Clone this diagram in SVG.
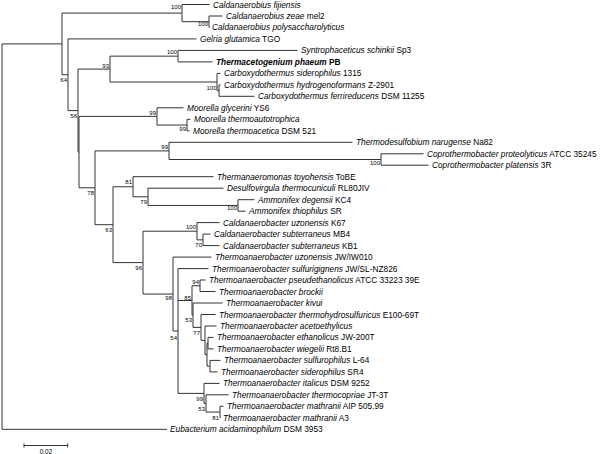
<svg xmlns="http://www.w3.org/2000/svg" width="600" height="454" viewBox="0 0 600 454">
<style>
.t{font-family:"Liberation Sans",Arial,sans-serif;font-size:8.3px;fill:#000}
.i{font-style:italic}
.bd{font-weight:bold}
.bs{font-family:"Liberation Sans",Arial,sans-serif;font-size:6px;fill:#000;text-anchor:end}
.br{fill:none;stroke:#333;stroke-width:1}
.sc{font-family:"Liberation Sans",Arial,sans-serif;font-size:6.5px;fill:#000;text-anchor:middle}
</style>
<rect width="600" height="454" fill="#fff"/>
<g id="connectors" class="br">
<path d="M2,43.9V429.3M2,43.9H62M2,429.3H167"/>
<path d="M62,13.1V74.75M62,13.1H182M62,74.75H68"/>
<path d="M182,4.5V21.7M182,4.5H209.5M182,21.7H209"/>
<path d="M209,16V27.4M209,16H222.5M209,27.4H209.5"/>
<path d="M68,38.9V110.6M68,38.9H196.5M68,110.6H78"/>
<path d="M78,69.1V152.1M78,69.1H110M78,152.1H79"/>
<path d="M110,56.15V82M110,56.15H178M110,82H217"/>
<path d="M178,50.4V61.9M178,50.4H297.5M178,61.9H212.5"/>
<path d="M217,73.4V90.6M217,73.4H220.5M217,90.6H219"/>
<path d="M219,84.9V96.3M219,84.9H220.5M219,96.3H254.5"/>
<path d="M79,116.4V187.8M79,116.4H157M79,187.8H95"/>
<path d="M157,107.8V125.05M157,107.8H183.5M157,125.05H187"/>
<path d="M187,119.3V130.8M187,119.3H190.5M187,130.8H189.5"/>
<path d="M95,150.9V224.7M95,150.9H169M95,224.7H113"/>
<path d="M169,142.3V159.5M169,142.3H352.5M169,159.5H381"/>
<path d="M381,153.8V165.2M381,153.8H423.5M381,165.2H428.5"/>
<path d="M113,186.75V262.6M113,186.75H133M113,262.6H143"/>
<path d="M133,176.7V196.8M133,176.7H213.5M133,196.8H148"/>
<path d="M148,188.2V205.45M148,188.2H223.5M148,205.45H238"/>
<path d="M238,199.7V211.2M238,199.7H254.5M238,211.2H245.5"/>
<path d="M143,231.2V294.05M143,231.2H197M143,294.05H173"/>
<path d="M197,222.6V239.85M197,222.6H219.5M197,239.85H203"/>
<path d="M203,234.1V245.6M203,234.1H210.5M203,245.6H219.5"/>
<path d="M173,257.1V331M173,257.1H211.5M173,331H178"/>
<path d="M178,268.6V393.4M178,268.6H208.5M178,300.5H192M178,393.4H204"/>
<path d="M192,285.75V315.2M192,285.75H200M192,315.2H193"/>
<path d="M200,280V291.5M200,280H205.5M200,291.5H215.5"/>
<path d="M193,303V327.4M193,303H222.5M193,327.4H201"/>
<path d="M201,314.5V340.3M201,314.5H215.5M201,340.3H205"/>
<path d="M205,326V354.65M205,326H216.5M205,354.65H207"/>
<path d="M207,343.15V366.15M207,343.15H208M207,366.15H210"/>
<path d="M208,337.4V348.9M208,337.4H213.5M208,348.9H213.5"/>
<path d="M210,360.4V371.9M210,360.4H220.5M210,371.9H217.5"/>
<path d="M204,383.4V403.4M204,383.4H219.5M204,403.4H206"/>
<path d="M206,394.8V412.05M206,394.8H228.5M206,412.05H220"/>
<path d="M220,406.3V417.8M220,406.3H223.5M220,417.8H220.5"/>
</g>
<g id="bootstrap">
<text class="bs" x="181" y="9.2">100</text>
<text class="bs" x="208" y="26.2">100</text>
<text class="bs" x="67" y="82.2">64</text>
<text class="bs" x="177" y="54.2">100</text>
<text class="bs" x="109" y="68.2">93</text>
<text class="bs" x="216.5" y="90.2">100</text>
<text class="bs" x="77" y="118.2">56</text>
<text class="bs" x="156" y="115.2">99</text>
<text class="bs" x="186" y="131.2">99</text>
<text class="bs" x="168" y="149.2">99</text>
<text class="bs" x="380" y="165.2">100</text>
<text class="bs" x="94" y="195.2">78</text>
<text class="bs" x="132" y="184.2">81</text>
<text class="bs" x="147" y="204.2">79</text>
<text class="bs" x="237" y="210.2">100</text>
<text class="bs" x="112" y="232.2">63</text>
<text class="bs" x="196" y="229.2">100</text>
<text class="bs" x="202" y="247.2">70</text>
<text class="bs" x="142" y="270.2">96</text>
<text class="bs" x="172" y="300.2">98</text>
<text class="bs" x="199" y="284.2">94</text>
<text class="bs" x="191" y="300.2">85</text>
<text class="bs" x="192" y="322.2">53</text>
<text class="bs" x="200" y="335.2">77</text>
<text class="bs" x="177" y="340.2">54</text>
<text class="bs" x="203" y="401.2">99</text>
<text class="bs" x="205" y="411.2">53</text>
<text class="bs" x="219" y="420.2">81</text>
</g>
<g id="n1"><text class="t" x="213" y="7.5"><tspan class="i">Caldanaerobius fijiensis</tspan></text></g>
<g id="n2"><text class="t" x="226" y="19"><tspan class="i">Caldanaerobius zeae</tspan> mel2</text></g>
<g id="n3"><text class="t" x="212" y="30.4"><tspan class="i">Caldanaerobius polysaccharolyticus</tspan></text></g>
<g id="n4"><text class="t" x="200" y="41.9"><tspan class="i">Gelria glutamica</tspan> TGO</text></g>
<g id="n5"><text class="t" x="301" y="53.4"><tspan class="i">Syntrophaceticus schinkii</tspan> Sp3</text></g>
<g id="n6"><text class="t bd" x="216" y="64.9"><tspan class="i">Thermacetogenium phaeum</tspan> PB</text></g>
<g id="n7"><text class="t" x="224" y="76.4"><tspan class="i">Carboxydothermus siderophilus</tspan> 1315</text></g>
<g id="n8"><text class="t" x="224" y="87.9"><tspan class="i">Carboxydothermus hydrogenoformans</tspan> Z-2901</text></g>
<g id="n9"><text class="t" x="258" y="99.3"><tspan class="i">Carboxydothermus ferrireducens</tspan> DSM 11255</text></g>
<g id="n10"><text class="t" x="187" y="110.8"><tspan class="i">Moorella glycerini</tspan> YS6</text></g>
<g id="n11"><text class="t" x="194" y="122.3"><tspan class="i">Moorella thermoautotrophica</tspan></text></g>
<g id="n12"><text class="t" x="193" y="133.8"><tspan class="i">Moorella thermoacetica</tspan> DSM 521</text></g>
<g id="n13"><text class="t" x="356" y="145.3"><tspan class="i">Thermodesulfobium narugense</tspan> Na82</text></g>
<g id="n14"><text class="t" x="427" y="156.8"><tspan class="i">Coprothermobacter proteolyticus</tspan> ATCC 35245</text></g>
<g id="n15"><text class="t" x="432" y="168.2"><tspan class="i">Coprothermobacter platensis</tspan> 3R</text></g>
<g id="n16"><text class="t" x="217" y="179.7"><tspan class="i">Thermanaeromonas toyohensis</tspan> ToBE</text></g>
<g id="n17"><text class="t" x="227" y="191.2"><tspan class="i">Desulfovirgula thermocuniculi</tspan> RL80JIV</text></g>
<g id="n18"><text class="t" x="258" y="202.7"><tspan class="i">Ammonifex degensii</tspan> KC4</text></g>
<g id="n19"><text class="t" x="249" y="214.2"><tspan class="i">Ammonifex thiophilus</tspan> SR</text></g>
<g id="n20"><text class="t" x="223" y="225.6"><tspan class="i">Caldanaerobacter uzonensis</tspan> K67</text></g>
<g id="n21"><text class="t" x="214" y="237.1"><tspan class="i">Caldanaerobacter subterraneus</tspan> MB4</text></g>
<g id="n22"><text class="t" x="223" y="248.6"><tspan class="i">Caldanaerobacter subterraneus</tspan> KB1</text></g>
<g id="n23"><text class="t" x="215" y="260.1"><tspan class="i">Thermoanaerobacter uzonensis</tspan> JW/IW010</text></g>
<g id="n24"><text class="t" x="212" y="271.6"><tspan class="i">Thermoanaerobacter sulfurigignens</tspan> JW/SL-NZ826</text></g>
<g id="n25"><text class="t" x="209" y="283"><tspan class="i">Thermoanaerobacter pseudethanolicus</tspan> ATCC 33223 39E</text></g>
<g id="n26"><text class="t" x="219" y="294.5"><tspan class="i">Thermoanaerobacter brockii</tspan></text></g>
<g id="n27"><text class="t" x="226" y="306"><tspan class="i">Thermoanaerobacter kivui</tspan></text></g>
<g id="n28"><text class="t" x="219" y="317.5"><tspan class="i">Thermoanaerobacter thermohydrosulfuricus</tspan> E100-69T</text></g>
<g id="n29"><text class="t" x="220" y="329"><tspan class="i">Thermoanaerobacter acetoethylicus</tspan></text></g>
<g id="n30"><text class="t" x="217" y="340.4"><tspan class="i">Thermoanaerobacter ethanolicus</tspan> JW-200T</text></g>
<g id="n31"><text class="t" x="217" y="351.9"><tspan class="i">Thermoanaerobacter wiegelii</tspan> Rt8.B1</text></g>
<g id="n32"><text class="t" x="224" y="363.4"><tspan class="i">Thermoanaerobacter sulfurophilus</tspan> L-64</text></g>
<g id="n33"><text class="t" x="221" y="374.9"><tspan class="i">Thermoanaerobacter siderophilus</tspan> SR4</text></g>
<g id="n34"><text class="t" x="223" y="386.4"><tspan class="i">Thermoanaerobacter italicus</tspan> DSM 9252</text></g>
<g id="n35"><text class="t" x="232" y="397.8"><tspan class="i">Thermoanaerobacter thermocopriae</tspan> JT-3T</text></g>
<g id="n36"><text class="t" x="227" y="409.3"><tspan class="i">Thermoanaerobacter mathranii</tspan> AIP 505.99</text></g>
<g id="n37"><text class="t" x="223" y="420.8"><tspan class="i">Thermoanaerobacter mathranii</tspan> A3</text></g>
<g id="n38"><text class="t" x="170" y="432.3"><tspan class="i">Eubacterium acidaminophilum</tspan> DSM 3953</text></g>
<g id="scale">
<path class="br" d="M24,445.5H67.7M24,443.5V447.5M67.7,443.5V447.5"/>
<text class="sc" x="46" y="453.5">0.02</text>
</g>
</svg>
